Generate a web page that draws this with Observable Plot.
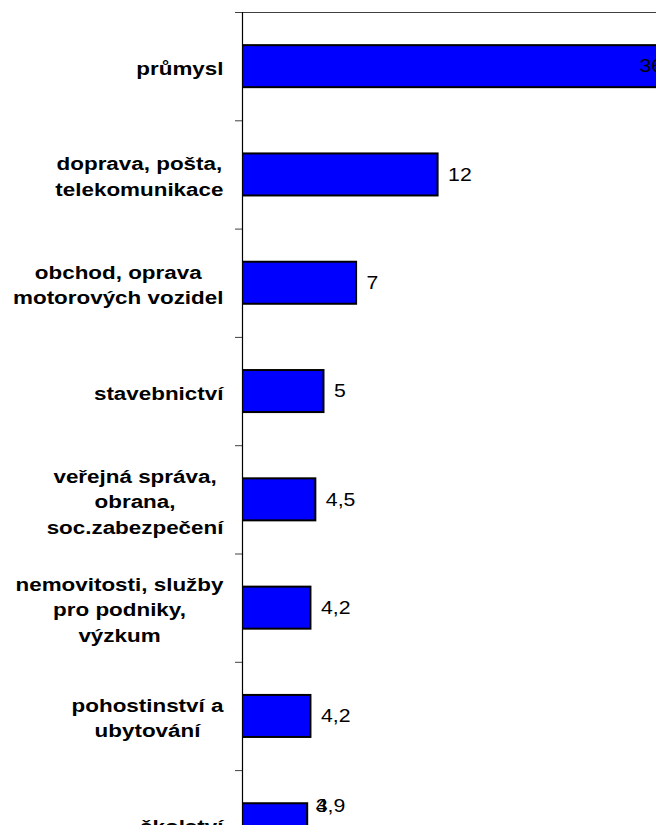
<!DOCTYPE html>
<html><head><meta charset="utf-8">
<script src="https://cdn.jsdelivr.net/npm/d3@7"></script>
<script src="https://cdn.jsdelivr.net/npm/@observablehq/plot@0.6"></script>
<style>body{margin:0;background:#fff} svg{display:block}</style>
</head><body><div id="chart"></div>
<script>
const categories = [
  "průmysl",
  "doprava, pošta,\ntelekomunikace",
  "obchod, oprava\nmotorových vozidel",
  "stavebnictví",
  "veřejná správa,\nobrana,\nsoc.zabezpečení",
  "nemovitosti, služby\npro podniky,\nvýzkum",
  "pohostinství a\nubytování",
  "školství"
];
const values = [36, 12, 7, 5, 4.5, 4.2, 4.2, 4];
const valueLabels = ["36", "12", "7", "5", "4,5", "4,2", "4,2", "4"];
const extraLabels = ["3,9"]; // overlapping label on the last bar

const FONT = "Liberation Sans, Arial, sans-serif";
const STRETCH = 1.18;
const catSize = 19, valSize = 18;
const xMax = 25.4, labelCap = 23.74, gap = 0.306;

const rows = categories.map((c, i) => ({category: c, i, value: values[i], label: valueLabels[i]}));
const last = rows[rows.length - 1];
const lastLabels = [last.label, ...extraLabels].map(t => ({i: last.i, value: last.value, label: t}));

const ctx = document.createElement("canvas").getContext("2d");
ctx.font = `bold ${catSize}px Liberation Sans`;
const blockWidth = c => d3.max(c.split("\n"), l => ctx.measureText(l).width) * STRETCH;

const marginLeft = 242;
const catMarks = rows.map(r => Plot.text([r], {
  x: 0, y: d => d.i + 0.5, text: "category",
  textAnchor: "middle", lineAnchor: "middle",
  dx: 223 - blockWidth(r.category) / 2 - marginLeft,
  fontSize: catSize, fontWeight: "bold", lineHeight: 25.5 / catSize, fill: "#000"
}));

const chart = Plot.plot({
  width: 656, height: 825,
  marginLeft, marginRight: 0, marginTop: 12, marginBottom: 0,
  style: {fontFamily: FONT, background: "#fff"},
  x: {domain: [0, xMax], axis: null},
  y: {domain: [0, categories.length], range: [12, 12 + categories.length * 108.3], axis: null},
  marks: [
    Plot.ruleY([0], {x1: 0, x2: xMax, stroke: "#404040", strokeWidth: 1}),
    Plot.rect(rows, {x1: 0, x2: "value", y1: d => d.i + gap, y2: d => d.i + 1 - gap,
      fill: "#0000ff", stroke: "#000", strokeWidth: 2, clip: true}),
    Plot.ruleX([0], {stroke: "#000", strokeWidth: 1.2}),
    Plot.axisY({ticks: d3.range(0, categories.length + 1), tickSize: 7, tickFormat: () => "", stroke: "#404040", label: null}),
    ...catMarks,
    Plot.text(rows.slice(0, -1), {x: d => Math.min(d.value, labelCap), y: d => d.i + 0.5, text: "label",
      textAnchor: "start", dx: 10, fontSize: valSize, fill: "#000"}),
    Plot.text(lastLabels, {x: "value", y: d => d.i + 0.5, text: "label",
      textAnchor: "start", dx: 8, dy: -19, fontSize: valSize, fill: "#000"})
  ]
});

chart.querySelectorAll("text").forEach(t => {
  const x = +t.getAttribute("x") || 0;
  const tr = t.getAttribute("transform") || "";
  t.setAttribute("transform", `${tr} translate(${x},0) scale(${STRETCH},1) translate(${-x},0)`);
});
document.getElementById("chart").append(chart);
</script>
</body></html>
